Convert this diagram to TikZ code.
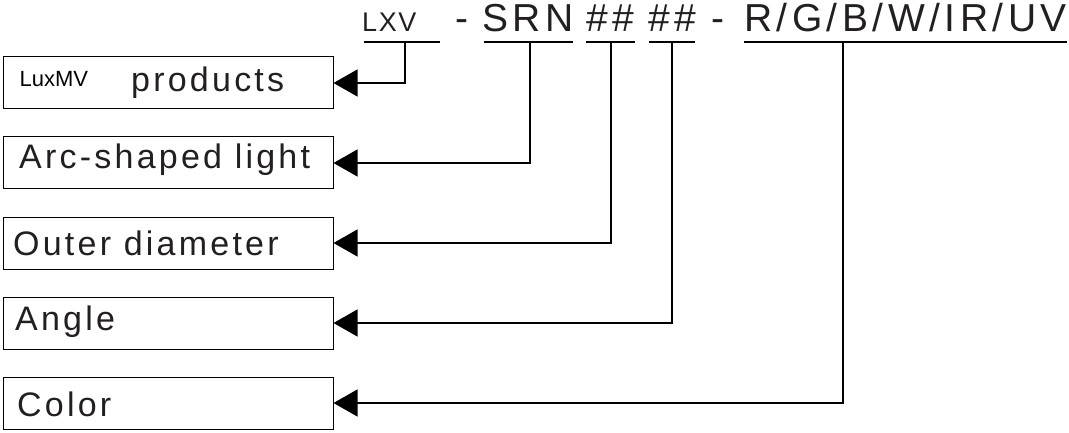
\documentclass[tikz,border=0pt]{standalone}
\usepackage{fontspec}
\setmainfont{Liberation Sans}
\newfontfamily\boxfont[LetterSpace=9.5]{Liberation Sans}
\newfontfamily\codefont[LetterSpace=11.5]{Liberation Sans}
\newfontfamily\smallcodefont[LetterSpace=6]{Liberation Sans}
\usetikzlibrary{arrows.meta}
\definecolor{ink}{RGB}{35,31,32}
\begin{document}
\begin{tikzpicture}[x=1pt,y=-1pt,
  box/.style={draw,line width=1pt,minimum width=330pt,minimum height=52pt,inner sep=0pt},
  lbl/.style={anchor=base west,inner sep=0pt,font=\boxfont\fontsize{34}{34}\selectfont,text=ink},
  code/.style={anchor=base west,inner sep=0pt,font=\codefont\fontsize{39}{39}\selectfont,text=ink},
  uline/.style={line width=1.4pt},
  conn/.style={line width=1.2pt,-{Triangle[length=24pt,width=27pt]}}]
\useasboundingbox (0,0) rectangle (1069,433);
% boxes
\node[box] (b1) at (168,83) {};
\node[box] (b2) at (168,163) {};
\node[box] (b3) at (168,243) {};
\node[box] (b4) at (168,323) {};
\node[box] (b5) at (168,403) {};
% box labels
\node[anchor=base west,inner sep=0pt,font=\fontsize{22}{22}\selectfont] (t1a) at (19.5,86.7) {LuxMV};
\node[lbl] (t1) at (131,91.7) {products};
\node[lbl] (t2) at (19,169) {Arc-shaped light};
\node[lbl] (t3) at (13,255) {Outer diameter};
\node[lbl] (t4) at (15,330) {Angle};
\node[lbl] (t5) at (17,416) {Color};
% code line
\node[anchor=base west,inner sep=0pt,font=\smallcodefont\fontsize{27}{27}\selectfont,text=ink] (k1) at (362,32) {LXV};
\node[code] (kd1) at (455,32) {-};
\node[code] (k2) at (482,32) {SRN};
\node[code] (k3) at (586,32) {\#\#};
\node[code] (k4) at (648.5,32) {\#\#};
\node[code] (kd2) at (711,32) {-};
\node[code] (k5) at (744,32) {R/G/B/W/IR/UV};
% underlines
\draw[uline] (364,42) -- (440,42);
\draw[uline] (484,42) -- (573,42);
\draw[uline] (586,42) -- (635,42);
\draw[uline] (649,42) -- (695,42);
\draw[uline] (744,42) -- (1067,42);
\coordinate (c1) at (405,42);
\coordinate (c2) at (530,42);
\coordinate (c3) at (611,42);
\coordinate (c4) at (672,42);
\coordinate (c5) at (843,42);
% connectors
\draw[conn] (c1) |- (b1.east);
\draw[conn] (c2) |- (b2.east);
\draw[conn] (c3) |- (b3.east);
\draw[conn] (c4) |- (b4.east);
\draw[conn] (c5) |- (b5.east);
\end{tikzpicture}
\end{document}
